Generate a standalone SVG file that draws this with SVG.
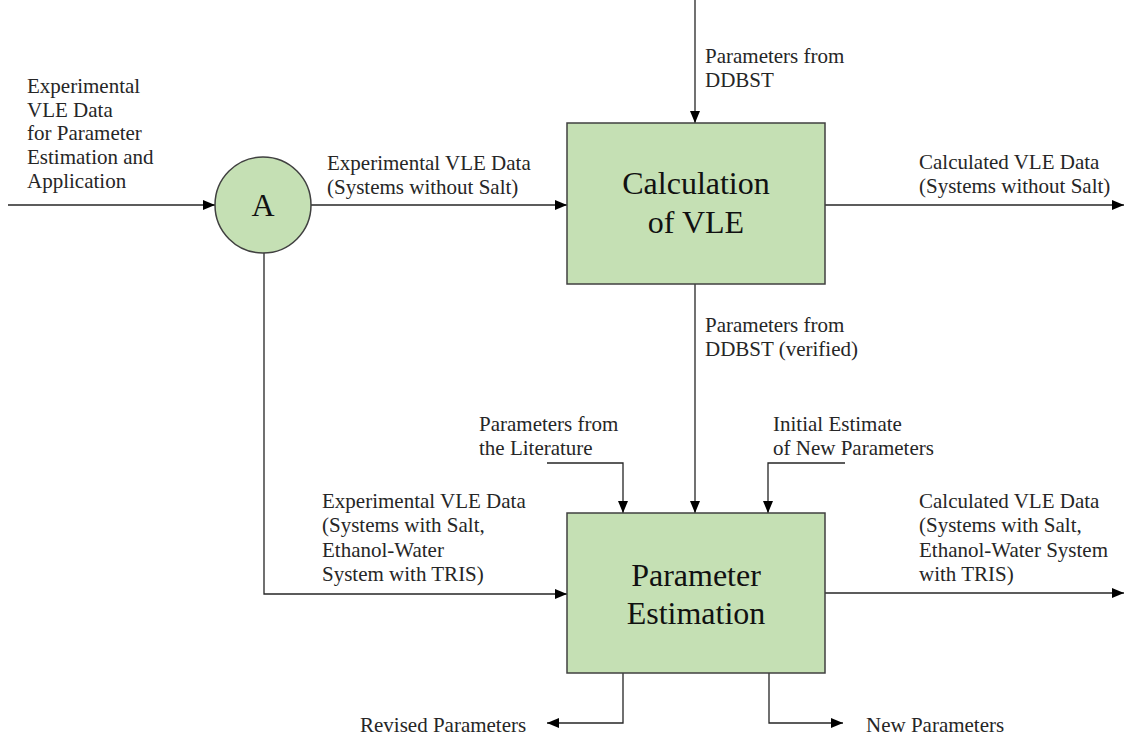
<svg xmlns="http://www.w3.org/2000/svg" width="1125" height="738" viewBox="0 0 1125 738">
<defs>
<marker id="arr" markerWidth="13" markerHeight="10" refX="12" refY="5" orient="auto" markerUnits="userSpaceOnUse">
<path d="M0,0 L12,5 L0,10 z" fill="#000"/>
</marker>
<style>
.lbl{font-size:21px;fill:#262626}
.ttl{font-size:32px;fill:#111;text-anchor:middle}
.box{fill:#c5e0b4;stroke:#404040;stroke-width:1.5}
.ln{fill:none;stroke:#262626;stroke-width:1.3}
.ar{marker-end:url(#arr)}
</style>
</defs>
<rect width="1125" height="738" fill="#fff"/>
<g id="connectors">
<path class="ln ar" d="M8,205 H215"/>
<path class="ln ar" d="M311,205 H567"/>
<path class="ln ar" d="M695,0 V123"/>
<path class="ln ar" d="M825,205 H1124"/>
<path class="ln ar" d="M695,284 V513"/>
<path class="ln ar" d="M547,463 H623 V513"/>
<path class="ln ar" d="M845,463 H768 V513"/>
<path class="ln ar" d="M264,253 V594 H567"/>
<path class="ln ar" d="M825,593 H1124"/>
<path class="ln ar" d="M623,673 V723 H547"/>
<path class="ln ar" d="M769,673 V723 H843"/>
</g>
<g font-family="Liberation Serif, Tinos, Times New Roman, DejaVu Serif, serif">
<g id="nodeA">
<circle cx="263" cy="205" r="48" class="box"/>
<text class="ttl" x="263" y="216">A</text>
</g>
<g id="calc">
<rect x="567" y="123" width="258" height="161" class="box"/>
<text class="ttl" x="696" y="194">Calculation</text>
<text class="ttl" x="696" y="233">of VLE</text>
</g>
<g id="paramest">
<rect x="567" y="513" width="258" height="160" class="box"/>
<text class="ttl" x="696" y="586">Parameter</text>
<text class="ttl" x="696" y="624">Estimation</text>
</g>
<g id="labels">
<text class="lbl" x="27" y="93">Experimental</text>
<text class="lbl" x="27" y="117">VLE Data</text>
<text class="lbl" x="27" y="140">for Parameter</text>
<text class="lbl" x="27" y="164">Estimation and</text>
<text class="lbl" x="27" y="188">Application</text>
<text class="lbl" x="327" y="170">Experimental VLE Data</text>
<text class="lbl" x="327" y="194">(Systems without Salt)</text>
<text class="lbl" x="705" y="63">Parameters from</text>
<text class="lbl" x="705" y="87">DDBST</text>
<text class="lbl" x="919" y="169">Calculated VLE Data</text>
<text class="lbl" x="919" y="193">(Systems without Salt)</text>
<text class="lbl" x="705" y="332">Parameters from</text>
<text class="lbl" x="705" y="356">DDBST (verified)</text>
<text class="lbl" x="479" y="431">Parameters from</text>
<text class="lbl" x="479" y="455">the Literature</text>
<text class="lbl" x="773" y="431">Initial Estimate</text>
<text class="lbl" x="773" y="455">of New Parameters</text>
<text class="lbl" x="322" y="508">Experimental VLE Data</text>
<text class="lbl" x="322" y="532">(Systems with Salt,</text>
<text class="lbl" x="322" y="557">Ethanol-Water</text>
<text class="lbl" x="322" y="581">System with TRIS)</text>
<text class="lbl" x="919" y="508">Calculated VLE Data</text>
<text class="lbl" x="919" y="532">(Systems with Salt,</text>
<text class="lbl" x="919" y="557">Ethanol-Water System</text>
<text class="lbl" x="919" y="581">with TRIS)</text>
<text class="lbl" x="360" y="732">Revised Parameters</text>
<text class="lbl" x="866" y="732">New Parameters</text>
</g>
</g>
</svg>
